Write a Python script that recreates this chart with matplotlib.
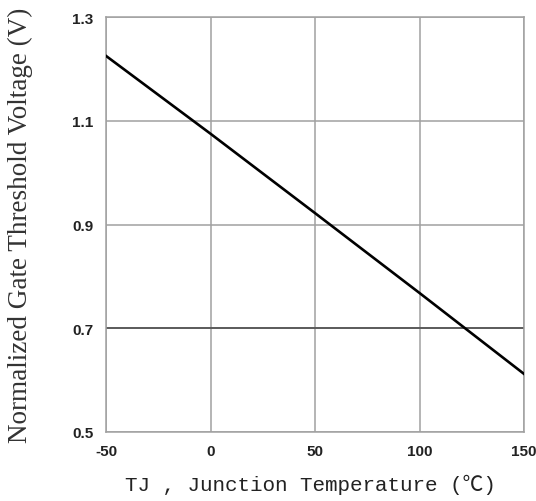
import matplotlib
matplotlib.use("Agg")
import matplotlib.pyplot as plt

# curve
temp_c = [-50, 0, 50, 100, 150]
vth_norm = [1.225, 1.075, 0.922, 0.768, 0.612]

xticks = [-50, 0, 50, 100, 150]
yticks = [0.5, 0.7, 0.9, 1.1, 1.3]
ytick_labels = ["0.5", "0.7", "0.9", "1.1", "1.3"]

fig = plt.figure(figsize=(5.36, 5.02), dpi=100)
ax = fig.add_axes([106 / 536, 69 / 502, 418 / 536, 415 / 502])

ax.set_xlim(-50, 150)
ax.set_ylim(0.5, 1.3)
ax.set_xticks(xticks)
ax.set_yticks(yticks)
ax.set_xticklabels([str(t) for t in xticks])
ax.set_yticklabels(ytick_labels)

ax.grid(True, color="#a0a0a0", linewidth=1.1)
ax.set_axisbelow(True)
for s in ax.spines.values():
    s.set_color("#a0a0a0")
    s.set_linewidth(1.1)
# the 0.7 line is drawn darker in the original
ax.axhline(0.7, color="#555555", linewidth=1.3, zorder=1.5)

ax.plot(temp_c, vth_norm, color="black", linewidth=1.9, zorder=3)

ax.tick_params(axis="x", length=0, pad=9)
ax.tick_params(axis="y", length=0, pad=9)
for lab in ax.get_xticklabels() + ax.get_yticklabels():
    lab.set_fontfamily("Liberation Sans")
    lab.set_fontweight("bold")
    lab.set_fontsize(11)
    lab.set_color("#222222")

ax.set_ylabel("Normalized Gate Threshold Voltage (V)", family="Liberation Serif",
              fontsize=19.5, color="#333333")
ax.yaxis.set_label_coords(-73 / 418, 0.5)
ax.set_xlabel("TJ , Junction Temperature (℃)", family=["Liberation Mono", "Noto Sans CJK SC"],
              fontsize=15, color="#222222")
ax.xaxis.set_label_coords(0.49, -42 / 415)

fig.savefig("out.png", dpi=100)
